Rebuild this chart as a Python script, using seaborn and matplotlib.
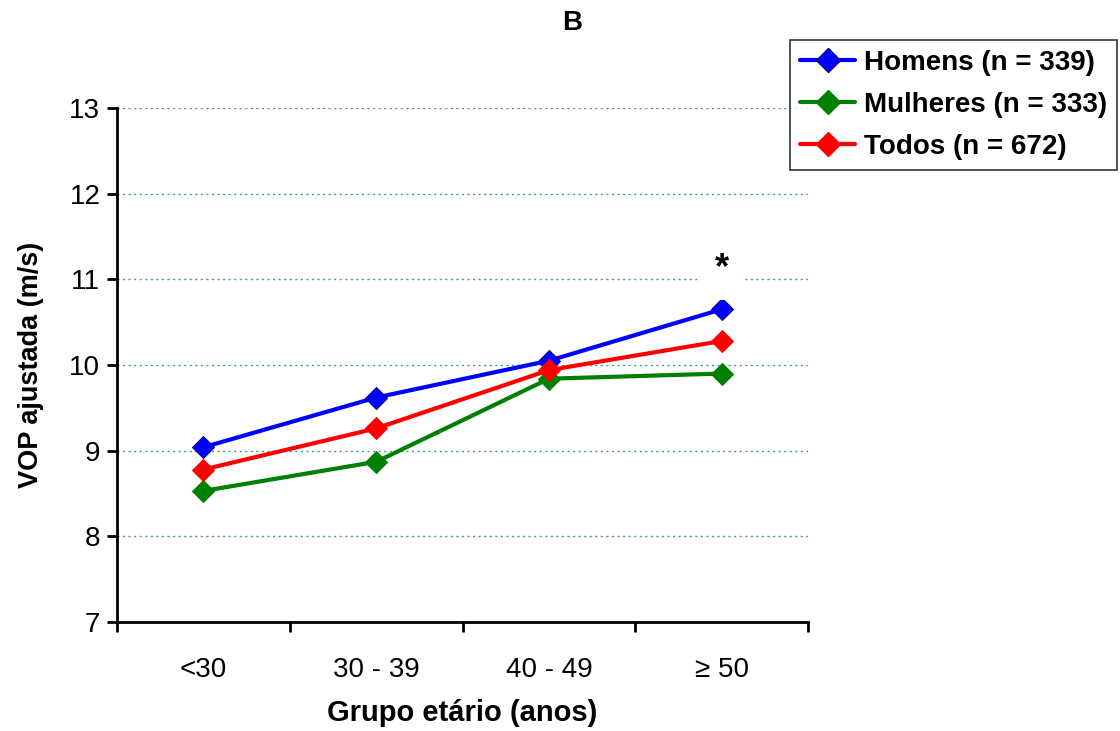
import matplotlib
matplotlib.use("Agg")
import matplotlib.pyplot as plt
import seaborn as sns
import pandas as pd
import numpy as np
from matplotlib.lines import Line2D

categories = ["<30", "30 - 39", "40 - 49", "≥ 50"]
homens = [9.04, 9.62, 10.05, 10.65]
mulheres = [8.53, 8.87, 9.84, 9.90]
todos = [8.78, 9.26, 9.94, 10.28]
series_names = ["Homens (n = 339)", "Mulheres (n = 333)", "Todos (n = 672)"]
series_colors = ["#0000FF", "#008000", "#FF0000"]
yticks = [7, 8, 9, 10, 11, 12, 13]

sns.set_theme(style="white")
plt.rcParams['font.family'] = ['Liberation Sans', 'DejaVu Sans']
plt.rcParams['text.color'] = 'black'
plt.rcParams['axes.labelcolor'] = 'black'
plt.rcParams['xtick.color'] = 'black'
plt.rcParams['ytick.color'] = 'black'

rows = []
for name, vals in zip(series_names, [homens, mulheres, todos]):
    for i, v in enumerate(vals):
        rows.append({"pos": i + 0.5, "cat": categories[i], "serie": name, "val": v})
df = pd.DataFrame(rows)

fig = plt.figure(figsize=(11.2, 7.31), dpi=100)
ax = fig.add_axes([0.1045, 0.1491, 0.617, 0.7032])

# gridlines
for y in yticks[1:]:
    ax.axhline(y, color="#3a9a9a", linestyle=(0, (1.5, 2.5)), linewidth=1.0, zorder=0)

sns.lineplot(data=df, x="pos", y="val", hue="serie", palette=series_colors,
             hue_order=series_names, marker="D", markersize=11, linewidth=3,
             ax=ax, legend=False, zorder=3)
data_lines = ax.lines[len(yticks) - 1:]
for line, c in zip(data_lines, series_colors):
    line.set_markeredgecolor(c)
data_lines[0].set_markeredgecolor("#00008B")

ax.set_xlim(0, 4)
ax.set_ylim(7, 13)
ax.set_yticks(yticks)
ax.set_yticklabels([str(y) for y in yticks], fontsize=20)
ax.set_xticks([0, 1, 2, 3, 4])
ax.set_xticklabels([])
ax.set_xticks([0.5, 1.5, 2.5, 3.5], minor=True)
ax.set_xticklabels(categories, minor=True, fontsize=20)
ax.tick_params(axis="x", which="major", direction="out", length=7, width=2, color="black", bottom=True)
ax.tick_params(axis="x", which="minor", length=0, pad=25)
ax.tick_params(axis="y", direction="out", length=7, width=2, color="black", left=True, pad=5)

for s in ["top", "right"]:
    ax.spines[s].set_visible(False)
for s in ["left", "bottom"]:
    ax.spines[s].set_color("black")
    ax.spines[s].set_linewidth(2)

ax.set_xlabel("Grupo etário (anos)", fontsize=21, fontweight="bold", labelpad=12)
ax.set_ylabel("VOP ajustada (m/s)", fontsize=19.5, fontweight="bold", labelpad=18)

ax.text(3.5, 11.12, "*", ha="center", va="center", fontsize=26, fontweight="bold",
        bbox=dict(facecolor="white", edgecolor="none", pad=10), zorder=4)

fig.text(0.511, 0.968, "B", ha="center", va="center", fontsize=20, fontweight="bold")

handles = [Line2D([0], [0], color=c, marker="D", markersize=12, linewidth=3,
                  markeredgecolor=("#00008B" if i == 0 else c))
           for i, c in enumerate(series_colors)]
leg = fig.legend(handles, series_names, loc="upper left", bbox_to_anchor=(0.7054, 0.945),
                 prop={"size": 20, "weight": "bold"}, frameon=True, fancybox=False,
                 handlelength=2.0, handletextpad=0.3, borderpad=0.35, labelspacing=0.58,
                 borderaxespad=0)
leg.get_frame().set_edgecolor("black")
leg.get_frame().set_linewidth(1.2)

fig.savefig("out.png", dpi=100)
